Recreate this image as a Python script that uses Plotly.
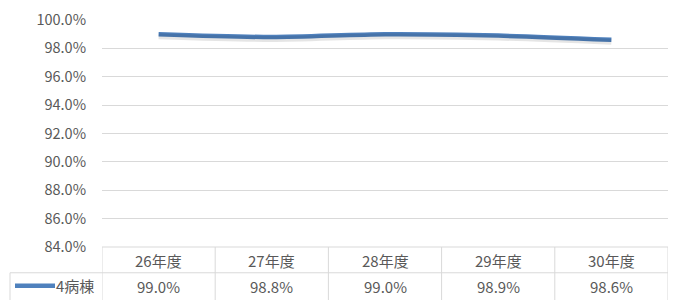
import plotly.graph_objects as go

categories = ["26年度", "27年度", "28年度", "29年度", "30年度"]
values = [0.990, 0.988, 0.990, 0.989, 0.986]
value_labels = ["99.0%", "98.8%", "99.0%", "98.9%", "98.6%"]
series_name = "4病棟"

W, H = 676, 300
L, R, T, B = 102, 8, 18, 53
plot_h = H - T - B
plot_w = W - L - R

def py(Y):
    return (H - B - Y) / plot_h

def px(X):
    return (X - L) / plot_w

FONT = "Noto Sans CJK JP, Noto Sans, sans-serif"
TXT = "#595959"
GRID = "#d9d9d9"
LINE = "#4f81bd"

idx = list(range(len(categories)))
ymin, ymax = 0.84, 1.0
shift = 2.0 * (ymax - ymin) / plot_h

fig = go.Figure()
fig.add_trace(go.Scatter(x=idx, y=values, mode="lines", yaxis="y2",
                         line=dict(color="rgba(0,0,0,0.10)", width=6, shape="spline", smoothing=0.8),
                         hoverinfo="skip", showlegend=False))
fig.add_trace(go.Scatter(x=idx, y=values, mode="lines", name=series_name,
                         line=dict(color=LINE, width=4.5, shape="spline", smoothing=0.8),
                         showlegend=False))

shapes = []
lc = dict(color=GRID, width=1)
shapes.append(dict(type="line", xref="x", yref="paper", x0=-0.5, x1=len(categories) - 0.5,
                   y0=py(247), y1=py(247), line=lc))
shapes.append(dict(type="line", xref="paper", yref="paper", x0=px(10), x1=px(668),
                   y0=py(273), y1=py(273), line=lc))
for i in range(len(categories) + 1):
    shapes.append(dict(type="line", xref="x", yref="paper", x0=i - 0.5, x1=i - 0.5,
                       y0=py(247), y1=py(302), line=lc))
shapes.append(dict(type="line", xref="paper", yref="paper", x0=px(10), x1=px(10),
                   y0=py(273), y1=py(302), line=lc))
shapes.append(dict(type="line", xref="paper", yref="paper", x0=px(15), x1=px(55),
                   y0=py(286), y1=py(286), line=dict(color=LINE, width=4.5)))

ann = []
for i, c in enumerate(categories):
    ann.append(dict(x=i, y=py(261), xref="x", yref="paper", text=c, showarrow=False,
                    font=dict(family=FONT, size=15, color=TXT), xanchor="center", yanchor="middle"))
    ann.append(dict(x=i, y=py(287), xref="x", yref="paper", text=value_labels[i], showarrow=False,
                    font=dict(family=FONT, size=15, color=TXT), xanchor="center", yanchor="middle"))
ann.append(dict(x=px(54), y=py(286), xref="paper", yref="paper", text=series_name, showarrow=False,
                font=dict(family=FONT, size=15, color=TXT), xanchor="left", yanchor="middle"))

fig.update_layout(
    width=W, height=H,
    margin=dict(l=L, r=R, t=T, b=B),
    paper_bgcolor="white", plot_bgcolor="white",
    showlegend=False,
    xaxis=dict(range=[-0.5, len(categories) - 0.5], showticklabels=False, showgrid=False,
               zeroline=False, showline=False, fixedrange=True),
    yaxis=dict(range=[ymin, ymax], dtick=0.02, tickformat=".1%", showgrid=True, gridcolor=GRID,
               gridwidth=1, zeroline=False, showline=False, ticks="", ticklabelstandoff=15,
               tickfont=dict(family=FONT, size=14.5, color=TXT)),
    yaxis2=dict(range=[ymin + shift, ymax + shift], overlaying="y", visible=False),
    shapes=shapes,
    annotations=ann,
)

fig.write_html("out.html", config={"displayModeBar": False},
               post_script="document.body.style.margin='0';document.body.style.padding='0';")
